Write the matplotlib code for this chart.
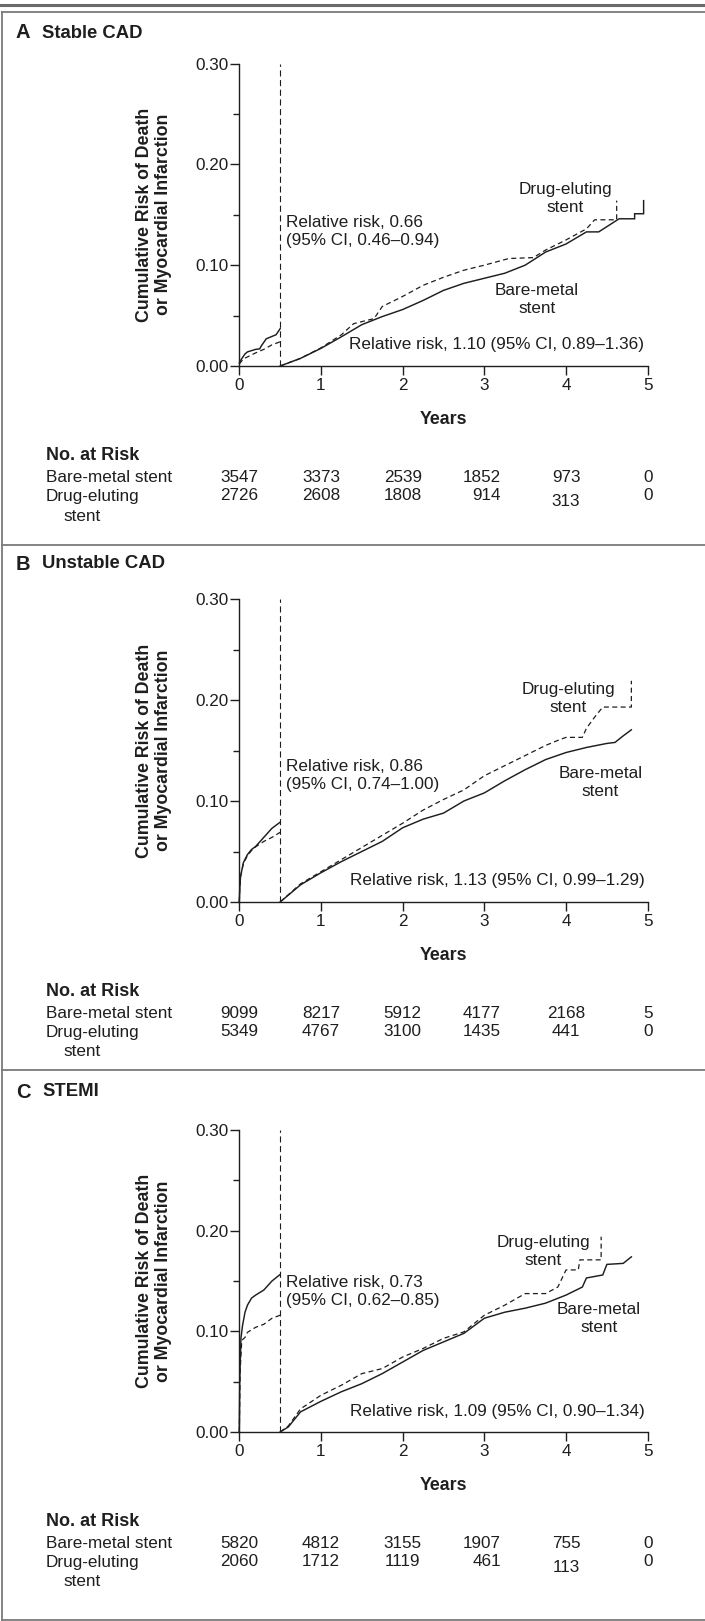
import matplotlib
matplotlib.use("Agg")
import matplotlib.pyplot as plt
from matplotlib import font_manager, transforms
from matplotlib.lines import Line2D

# ---------------------------------------------------------------- data
panel_titles = ["Stable CAD", "Unstable CAD", "STEMI"]
panel_letters = ["A", "B", "C"]

# Early period (0 to 0.5 yr)
A_bms_early_x = [0, 0.02, 0.07, 0.1, 0.2, 0.25, 0.27, 0.33, 0.45, 0.5]
A_bms_early_y = [0.003, 0.006, 0.012, 0.014, 0.0165, 0.017, 0.020, 0.027, 0.031, 0.037]
A_des_early_x = [0, 0.05, 0.1, 0.2, 0.3, 0.4, 0.5]
A_des_early_y = [0.002, 0.007, 0.009, 0.013, 0.0165, 0.021, 0.024]

B_bms_early_x = [0, 0.005, 0.015, 0.05, 0.1, 0.15, 0.2, 0.3, 0.4, 0.5]
B_bms_early_y = [0.0, 0.012, 0.025, 0.039, 0.047, 0.052, 0.055, 0.064, 0.073, 0.079]
B_des_early_x = [0, 0.005, 0.015, 0.05, 0.1, 0.15, 0.2, 0.3, 0.4, 0.5]
B_des_early_y = [0.0, 0.012, 0.025, 0.038, 0.046, 0.051, 0.0546, 0.060, 0.064, 0.069]

C_bms_early_x = [0, 0.005, 0.02, 0.04, 0.07, 0.1, 0.15, 0.2, 0.3, 0.4, 0.5]
C_bms_early_y = [0.0, 0.05, 0.093, 0.106, 0.119, 0.126, 0.133, 0.136, 0.141, 0.150, 0.1565]
C_des_early_x = [0, 0.01, 0.03, 0.07, 0.1, 0.2, 0.3, 0.4, 0.5]
C_des_early_y = [0.0, 0.06, 0.091, 0.094, 0.099, 0.104, 0.107, 0.113, 0.116]

# Landmark period (from 0.5 yr)
A_bms_late_x = [0.5, 0.75, 1.0, 1.25, 1.5, 1.75, 2.0, 2.25, 2.5, 2.75, 3.0, 3.25, 3.5,
                3.75, 4.0, 4.25, 4.4, 4.65, 4.84, 4.84, 4.95, 4.95]
A_bms_late_y = [0.0, 0.0076, 0.0175, 0.029, 0.041, 0.049, 0.056, 0.065, 0.075, 0.082,
                0.087, 0.092, 0.100, 0.113, 0.121, 0.133, 0.133, 0.146, 0.146, 0.151,
                0.151, 0.164]
A_des_late_x = [0.5, 0.75, 1.0, 1.25, 1.4, 1.65, 1.75, 2.0, 2.25, 2.5, 2.75, 3.0, 3.3,
                3.6, 3.75, 4.0, 4.25, 4.35, 4.62, 4.62]
A_des_late_y = [0.0, 0.0076, 0.018, 0.031, 0.042, 0.047, 0.059, 0.069, 0.080, 0.088,
                0.095, 0.100, 0.1066, 0.1075, 0.115, 0.125, 0.136, 0.145, 0.145, 0.164]

B_bms_late_x = [0.5, 0.75, 1.0, 1.25, 1.5, 1.75, 2.0, 2.25, 2.5, 2.75, 3.0, 3.25, 3.5,
                3.75, 4.0, 4.25, 4.5, 4.6, 4.7, 4.8]
B_bms_late_y = [0.0, 0.017, 0.029, 0.040, 0.050, 0.060, 0.0735, 0.082, 0.088, 0.100,
                0.108, 0.120, 0.131, 0.141, 0.148, 0.153, 0.157, 0.158, 0.1645, 0.1705]
B_des_late_x = [0.5, 0.75, 1.0, 1.25, 1.5, 1.75, 2.0, 2.25, 2.5, 2.75, 3.0, 3.25, 3.5,
                3.75, 3.9, 4.0, 4.2, 4.25, 4.35, 4.45, 4.8, 4.8]
B_des_late_y = [0.0, 0.018, 0.030, 0.042, 0.054, 0.066, 0.078, 0.091, 0.1015, 0.111,
                0.125, 0.135, 0.145, 0.155, 0.160, 0.163, 0.163, 0.172, 0.183, 0.193,
                0.193, 0.219]

C_bms_late_x = [0.5, 0.6, 0.75, 1.0, 1.25, 1.5, 1.75, 2.0, 2.25, 2.5, 2.75, 3.0, 3.25,
                3.5, 3.75, 4.0, 4.2, 4.25, 4.45, 4.5, 4.7, 4.8]
C_bms_late_y = [0.0, 0.005, 0.020, 0.0305, 0.040, 0.048, 0.058, 0.0695, 0.081, 0.0895,
                0.098, 0.113, 0.119, 0.123, 0.128, 0.136, 0.144, 0.153, 0.156, 0.1665,
                0.1675, 0.174]
C_des_late_x = [0.5, 0.6, 0.75, 1.0, 1.25, 1.5, 1.75, 2.0, 2.25, 2.5, 2.75, 3.0, 3.25,
                3.5, 3.75, 3.9, 4.0, 4.15, 4.17, 4.43, 4.43]
C_des_late_y = [0.0, 0.006, 0.023, 0.0365, 0.0465, 0.058, 0.063, 0.0745, 0.083, 0.093,
                0.0995, 0.116, 0.126, 0.1375, 0.1375, 0.144, 0.161, 0.161, 0.171, 0.171,
                0.194]

landmark_year = 0.5

early_rr_text = ["Relative risk, 0.66\n(95% CI, 0.46\u20130.94)",
                 "Relative risk, 0.86\n(95% CI, 0.74\u20131.00)",
                 "Relative risk, 0.73\n(95% CI, 0.62\u20130.85)"]
late_rr_text = ["Relative risk, 1.10 (95% CI, 0.89\u20131.36)",
                "Relative risk, 1.13 (95% CI, 0.99\u20131.29)",
                "Relative risk, 1.09 (95% CI, 0.90\u20131.34)"]

risk_years = [0, 1, 2, 3, 4, 5]
A_risk_bms = [3547, 3373, 2539, 1852, 973, 0]
A_risk_des = [2726, 2608, 1808, 914, 313, 0]
B_risk_bms = [9099, 8217, 5912, 4177, 2168, 5]
B_risk_des = [5349, 4767, 3100, 1435, 441, 0]
C_risk_bms = [5820, 4812, 3155, 1907, 755, 0]
C_risk_des = [2060, 1712, 1119, 461, 113, 0]

x_ticks = [0, 1, 2, 3, 4, 5]
y_ticks = [0.00, 0.10, 0.20, 0.30]
y_tick_labels = ["0.00", "0.10", "0.20", "0.30"]

# ---------------------------------------------------------------- style
names = {f.name for f in font_manager.fontManager.ttflist}
FAM = "Liberation Sans Narrow" if "Liberation Sans Narrow" in names else "Liberation Sans"
plt.rcParams["font.family"] = [FAM, "DejaVu Sans"]
INK = "#1e1e1e"
FRAME = "#7a7a7a"

W, H = 705, 1621
fig = plt.figure(figsize=(W / 100, H / 100), dpi=100)


def fx(px):
    return px / W


def fy(py):
    return 1 - py / H


# frame lines
fig.add_artist(Line2D([0, 1], [fy(5), fy(5)], color="#6a6a6a", lw=2.2))
for yy in (12, 545, 1070, 1619.5):
    fig.add_artist(Line2D([fx(1.5), 1], [fy(yy), fy(yy)], color=FRAME, lw=1.3))
fig.add_artist(Line2D([fx(1.5), fx(1.5)], [fy(12), fy(1619.5)], color=FRAME, lw=1.3))

panels = [
    dict(top=12, title_y=33, y30=63.5, y0=366,
         bms_e=(A_bms_early_x, A_bms_early_y), des_e=(A_des_early_x, A_des_early_y),
         bms_l=(A_bms_late_x, A_bms_late_y), des_l=(A_des_late_x, A_des_late_y),
         risk=(A_risk_bms, A_risk_des),
         early_xy=(0.57, 0.133), late_xy=(4.96, 0.021),
         des_lab=(3.99, 0.166), bms_lab=(3.64, 0.0655), low_col4=True),
    dict(top=545, title_y=564, y30=599, y0=902,
         bms_e=(B_bms_early_x, B_bms_early_y), des_e=(B_des_early_x, B_des_early_y),
         bms_l=(B_bms_late_x, B_bms_late_y), des_l=(B_des_late_x, B_des_late_y),
         risk=(B_risk_bms, B_risk_des),
         early_xy=(0.57, 0.1255), late_xy=(4.96, 0.021),
         des_lab=(4.03, 0.2015), bms_lab=(4.42, 0.118), low_col4=False),
    dict(top=1070, title_y=1092, y30=1130, y0=1432,
         bms_e=(C_bms_early_x, C_bms_early_y), des_e=(C_des_early_x, C_des_early_y),
         bms_l=(C_bms_late_x, C_bms_late_y), des_l=(C_des_late_x, C_des_late_y),
         risk=(C_risk_bms, C_risk_des),
         early_xy=(0.57, 0.1395), late_xy=(4.96, 0.020),
         des_lab=(3.72, 0.179), bms_lab=(4.40, 0.1125), low_col4=True),
]

X0, X5 = 239.3, 647.7
FS = 12.3
solid_kw = dict(color=INK, lw=1.05, solid_joinstyle="miter")
dash_kw = dict(color=INK, lw=0.9, dashes=(4.0, 2.7))

for i, p in enumerate(panels):
    ax = fig.add_axes([fx(X0), fy(p["y0"]), fx(X5) - fx(X0), fy(p["y30"]) - fy(p["y0"])])
    ax.set_xlim(0, 5)
    ax.set_ylim(0, 0.30)
    ax.patch.set_visible(False)
    for s in ("top", "right"):
        ax.spines[s].set_visible(False)
    for s in ("left", "bottom"):
        ax.spines[s].set_linewidth(1.0)
        ax.spines[s].set_color(INK)
    ax.set_xticks(x_ticks)
    ax.set_xticklabels([str(t) for t in x_ticks])
    ax.set_yticks(y_ticks)
    ax.set_yticklabels(y_tick_labels)
    ax.set_yticks([0.05, 0.15, 0.25], minor=True)
    ax.tick_params(axis="both", which="major", direction="out", length=6.5, width=1.0,
                   color=INK, labelcolor=INK, labelsize=FS, pad=1.5)
    ax.tick_params(axis="y", which="minor", direction="out", length=4.5, width=1.0, color=INK)
    ax.tick_params(axis="x", pad=2)

    # curves
    ax.plot(*p["bms_e"], **solid_kw, clip_on=False)
    ax.plot(*p["des_e"], **dash_kw, clip_on=False)
    ax.plot(*p["bms_l"], **solid_kw, clip_on=False)
    ax.plot(*p["des_l"], **dash_kw, clip_on=False)
    ax.plot([landmark_year, landmark_year], [0, 0.30], color=INK, lw=0.8,
            dashes=(5.5, 3.2), clip_on=False)

    # annotations
    ax.text(*p["early_xy"], early_rr_text[i], ha="left", va="center", fontsize=FS,
            color=INK, linespacing=1.25)
    ax.text(*p["late_xy"], late_rr_text[i], ha="right", va="center", fontsize=FS, color=INK)
    ax.text(*p["des_lab"], "Drug-eluting\nstent", ha="center", va="center", fontsize=FS,
            color=INK, linespacing=1.25)
    ax.text(*p["bms_lab"], "Bare-metal\nstent", ha="center", va="center", fontsize=FS,
            color=INK, linespacing=1.25)

    # panel title
    fig.text(fx(16), fy(p["title_y"]), panel_letters[i], fontsize=14.5, fontweight="bold",
             color=INK, va="center", ha="left")
    fig.text(fx(42), fy(p["title_y"]), panel_titles[i], fontsize=13.3, fontweight="bold",
             color=INK, va="center", ha="left")

    # y-axis label
    ymid = fy((p["y0"] + p["y30"]) / 2)
    fig.text(fx(154), ymid, "Cumulative Risk of Death\nor Myocardial Infarction",
             rotation=90, ha="center", va="center", fontsize=12.8, fontweight="bold",
             color=INK, linespacing=1.15)

    # x-axis label
    fig.text(fx((X0 + X5) / 2), fy(p["y0"] + 54), "Years", ha="center", va="center",
             fontsize=12.8, fontweight="bold", color=INK)

    # number at risk
    bt = transforms.blended_transform_factory(ax.transData, fig.transFigure)
    fig.text(fx(46), fy(p["y0"] + 90), "No. at Risk", ha="left", va="center",
             fontsize=13, fontweight="bold", color=INK)
    row_y = [p["y0"] + 112, p["y0"] + 130]
    fig.text(fx(46), fy(row_y[0]), "Bare-metal stent", ha="left", va="center",
             fontsize=FS, color=INK)
    fig.text(fx(46), fy(row_y[1]), "Drug-eluting", ha="left", va="center",
             fontsize=FS, color=INK)
    fig.text(fx(63), fy(row_y[1] + 20), "stent", ha="left", va="center",
             fontsize=FS, color=INK)
    bms_counts, des_counts = p["risk"]
    for r, counts in enumerate((bms_counts, des_counts)):
        for k, (yr, n) in enumerate(zip(risk_years, counts)):
            yy = row_y[r]
            if r == 1 and k == 4 and p["low_col4"]:
                yy += 5
            if k == 3:
                off = transforms.offset_copy(bt, fig=fig, x=16.5 * 0.72, units="points")
                ax.text(yr, fy(yy), str(n), transform=off, ha="right", va="center",
                        fontsize=FS, color=INK, clip_on=False)
            else:
                ax.text(yr, fy(yy), str(n), transform=bt, ha="center", va="center",
                        fontsize=FS, color=INK, clip_on=False)

fig.savefig("out.png", dpi=100, facecolor="white")
